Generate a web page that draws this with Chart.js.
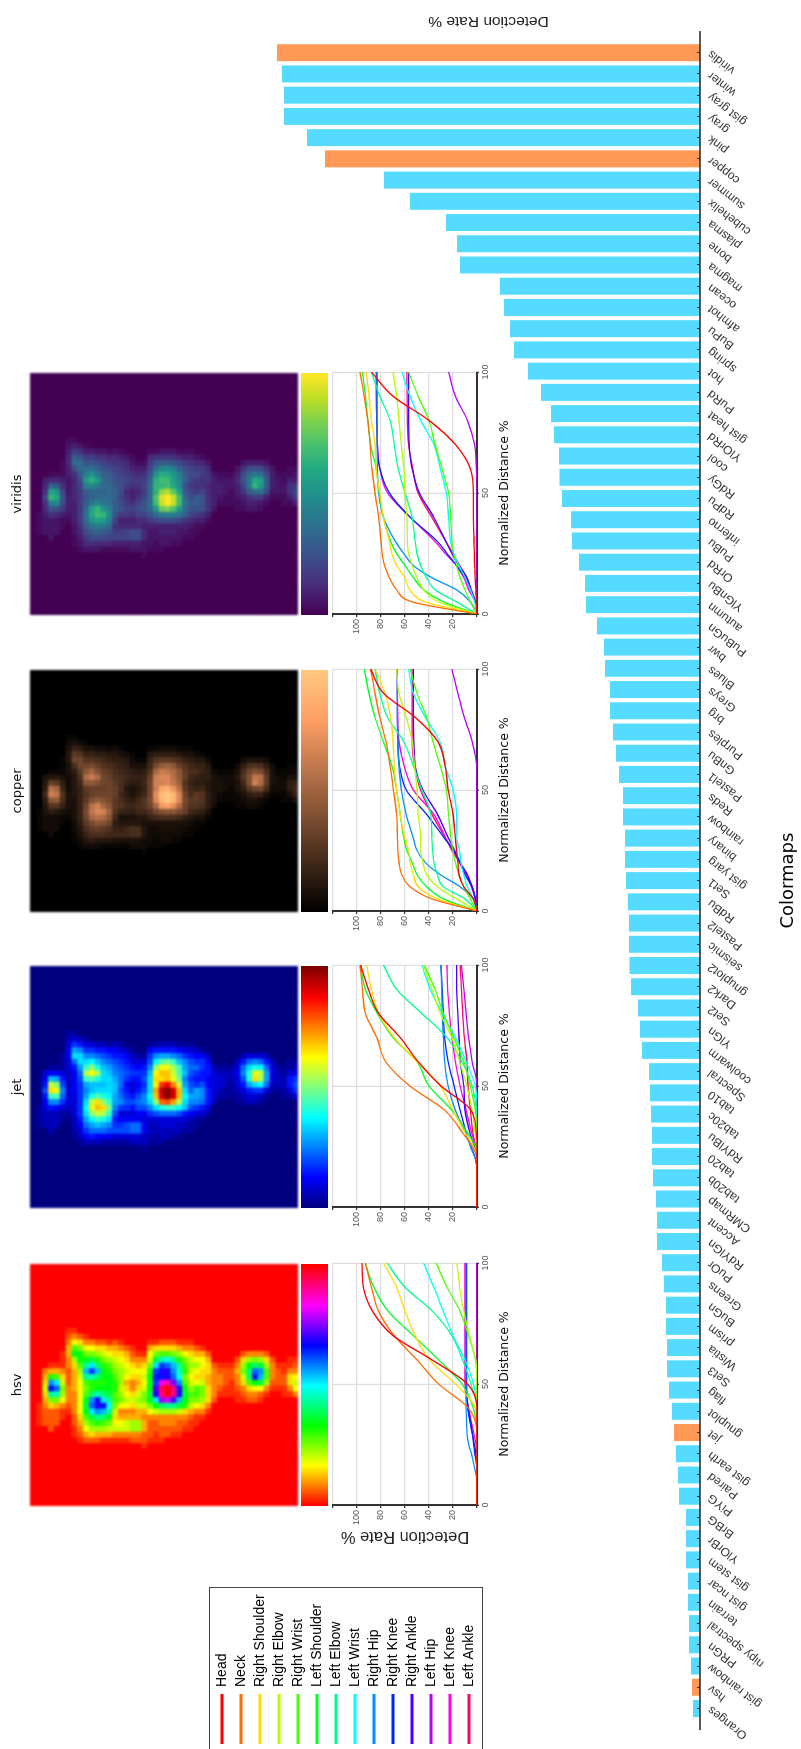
<!DOCTYPE html>
<html>
<head>
<meta charset="utf-8">
<title>Colormaps</title>
<script src="https://cdn.jsdelivr.net/npm/chart.js@4"></script>
<style>
  html, body { margin: 0; padding: 0; background: #fff; overflow: hidden; }
  body { width: 801px; height: 1749px; position: relative; }
  /* the whole figure lies on its side in the reference */
  #figure { position: absolute; left: 0; top: 1749px; width: 1749px; height: 801px;
            transform-origin: 0 0; transform: rotate(-90deg); filter: blur(0.3px); }
  #figure canvas { position: absolute; }
  #figure canvas.heat { filter: blur(0.9px); }
  #legendBox { position: absolute; left: -5px; top: 209px; width: 165px; height: 272px;
               border: 1px solid #444; }
</style>
</head>
<body>
<div id="figure"><div id="legendBox"></div></div>
<script>
// bar chart, viridis end first
const colormapNames = ['viridis','winter','gist gray','gray','pink','copper','summer','cubehelix','plasma','bone',
  'magma','ocean','afmhot','BuPu','spring','hot','PuRd','gist heat','YlOrRd','cool',
  'RdGy','RdPu','inferno','PuBu','OrRd','YlGnBu','autumn','PuBuGn','bwr','Blues',
  'Greys','brg','Purples','GnBu','Pastel1','Reds','rainbow','binary','gist yarg','Set1',
  'RdBu','Pastel2','seismic','gnuplot2','Dark2','Set2','YlGn','coolwarm','Spectral','tab10',
  'tab20c','RdYlBu','tab20','tab20b','CMRmap','Accent','RdYlGn','PuOr','Greens','BuGn',
  'prism','Wistia','Set3','flag','gnuplot','jet','gist earth','Paired','PiYG','BrBG',
  'YlOrBr','gist stem','gist ncar','terrain','nipy spectral','PRGn','gist rainbow','hsv','Oranges'];
const detectionRates = [42.3,41.8,41.6,41.6,39.3,37.5,31.6,29.0,25.4,24.3,
  24.0,20.0,19.6,19.0,18.6,17.2,15.9,14.9,14.6,14.1,
  14.05,13.8,12.9,12.8,12.1,11.5,11.4,10.3,9.6,9.5,
  9.0,9.0,8.7,8.4,8.1,7.7,7.7,7.5,7.5,7.4,
  7.2,7.1,7.1,7.05,6.9,6.2,6.0,5.8,5.1,5.0,
  4.9,4.8,4.8,4.7,4.4,4.3,4.3,3.8,3.6,3.4,
  3.4,3.3,3.3,3.1,2.8,2.6,2.4,2.2,2.1,1.4,
  1.4,1.4,1.2,1.2,1.1,1.1,0.9,0.8,0.7];
const highlighted = ['viridis','copper','jet','hsv'];

// line charts
const jointNames = ['Head','Neck','Right Shoulder','Right Elbow','Right Wrist','Left Shoulder','Left Elbow',
  'Left Wrist','Right Hip','Right Knee','Right Ankle','Left Hip','Left Knee','Left Ankle'];
const jointColors = ['#FF0000','#FF6D00','#FFDB00','#B6FF00','#49FF00','#00FF24','#00FF92',
  '#00FFFF','#0092FF','#0024FF','#4900FF','#B600FF','#FF00DB','#FF006D'];
const distances = [0,5,10,15,20,25,30,40,50,60,70,80,90,100];

const hsvCurves = [
  [0,0,0,0,0,0,0,0,8,37.6,70,87,94.7,96],
  [0,0,0,0,0,0,0,7,32,50,69,82,88,93],
  [0,0,0,0,0,0,0,1.4,18,39.5,51.5,60,67,78],
  [0,0,0,0,0,0,0,0,0,1,6.4,11,14.5,16.7],
  [0,0,0,0,0,0,0,0,0,1.4,7,14,25,34],
  [0,0,0,0,0,0,0,3,12.5,32,53,74,86,93],
  [0,0,0,0,0,0,0,0,5,12,21,37,60,75],
  [0,0,0,0,0,0,0,0,3,10,20,28,36,44.6],
  [0,0,0,2,4,7,8.4,9,9.2,9.2,9.2,9.2,9.2,9.2],
  [0,0,0,0,1.4,2.8,4,7.5,9,9,9,9,9,9],
  [0,0,0,0,0.5,2.2,4,7.5,8.6,8.6,8.6,8.6,8.6,8.6],
  [0,0,0,0,0,0,0,0,0,0,0,0,0,0],
  [0,0,0,0,0,0.8,2.8,7,10,10,10,10,10,10],
  [0,0,0,0,0,0,0,0,0,0,0,0,0,0]];
const jetCurves = [
  [0,0,0,0,0,0,0.5,5,30,49,64,82,90.5,97],
  [0,0,0,0,0,4,11,27,56,76,83.5,93,95.5,97.5],
  [0,0,0,0,0,3,9,20,30.6,50,69,82,88,92],
  [0,0,0,0,0,0,1.4,4,8.4,14.5,21,30.6,37.6,44.6],
  [0,0,0,0,0,0,0,1.4,5.5,11,19.5,28,35,44],
  [0,0,0,0,0,1.4,7,21,40,50,70,83,93,97],
  [0,0,0,0,0,0,0,0.5,4,12.5,25,46,67,78],
  [0,0,0,0,0,0,0,0,1.4,9,18,29,39,46],
  [0,0,0,0,1.4,5.5,9,18,24,27,28,29,29.5,30],
  [0,0,0,0,1.4,5,8.4,14,19,24,27,28,29,30],
  [0,0,0,0,0,2,5.5,10,11,14,15,16,17,17],
  [0,0,0,0,0,0,0,0,0,4,7,9,11,13],
  [0,0,0,0,0,1.4,4,9,14,18,21,23,24.5,25],
  [0,0,0,0,0,1.4,3.3,5.5,7.5,8.4,10.6,12,13,14]];
const copperCurves = [
  [0,3,11,15,16,17,18,20,24,26.5,32.6,51.5,78,88.6],
  [0,37.6,55.7,62.7,65,66,66.3,67,69.6,72.4,75.8,81,85,88.6],
  [0,33,49,53,55.7,57,60,64,67,69,70,72,76.6,85],
  [0,17,33,42,45,47,47,49,50,52,54,59,65,67],
  [0,5.5,11,15,18,20,21.7,23.7,25.6,30.6,36.8,42,50,55.7],
  [0,28,42,50,54,58.5,61,64,67,71,78,85,90,94],
  [0,10,28,33,36,37,37.6,38.4,46,53,61,74.6,81,85],
  [0,3,8,11,13.4,14.5,16.7,17,20,26.5,31,43,53,57],
  [0,3,14,30.6,43,50,53,59,63,65,66,66.3,66.3,66.3],
  [0,1.4,4,10,14,19.5,27,42,59,64.6,66,66.3,66.3,66.3],
  [0,1.4,4,8,14,18.7,23.7,33,45,51.5,52.6,53,53,53],
  [0,0,0,0,0,0,0,0,0,0.3,4,10.6,16,21],
  [0,1.4,4,9,14.5,21,26,36,53,60.7,65,66,66.3,66.3],
  [0,1.4,4.7,9,14.5,20,26,37.6,47,52,54,54,54,54]];
const viridisCurves = [
  [0,0.5,1,1.5,2,2.2,2.5,3,3,5.5,18,40,70,88],
  [0,54,67,73,77,79,80,82,85,87.5,89,91,94,97.5],
  [0,43,56,60,67,71,73,78,81,84,85,88,90,92.5],
  [0,32,44.5,50,54,57,58,58.5,60,61,63,65,67,70],
  [0,5.5,10,14,17,19.5,21,22,23.7,29,35,40,49,57],
  [0,28,44.5,53,60,67,72,78,81.6,84,88.6,91,93,95.5],
  [0,17,35,42,47,50,51.5,54,60,65.5,69,72.4,81,88],
  [0,2,5.5,10,15,19.5,22,23.7,25.6,30.6,36,47,55.7,62.7],
  [0,5.5,17,37.6,53,61,68,78,82,83,83.3,83.3,83.3,83.3],
  [0,1.4,5.5,10,17,25,33,55.7,73,81,83,83.5,83.5,83.5],
  [0,1.4,5,8.4,15,21,26,36,48,54,56.5,57,57,57],
  [0,0,0,0,0,0,0,0,0,0.5,2,8,18,23.7],
  [0,1.4,7,11,17,26.5,35,55.7,74.6,81,83,83.6,84,84],
  [0,1.4,4.7,8.4,14.5,20,26,37.6,49,53.5,57,58,58.2,58.5]];

// heatmap intensity: [first non zero column, base 36 values], one entry per row
const heatCols = 42;
const heatRows = [
  [0,''],[14,'1111'],[14,'2223457543'],[13,'222259fnkb41'],[14,'22249glia41'],[15,'113689753111'],
  [16,'123332223344321'],[12,'11223333444458ca631'],[11,'1234566666678acc952'],[11,'2468acdca9afjfc9631'],
  [11,'258adilkebbgmid963'],[11,'248bfkongcbejeb852'],[11,'148aejniecbccb9752'],[11,'1479cfhfdcccba8641'],
  [11,'1376579aabba987542'],[11,'137643698788876531'],[11,'13774367654676542'],[11,'23884357533565321'],
  [11,'2388447875456431'],[10,'12244347997676531'],[11,'1222369cdcccb97641'],[11,'112237ciopmnmid951'],
  [11,'122338erwxtnomga52'],[12,'22338fszzvoolha52'],[12,'12338fpwwqlkjf952'],[12,'12237djookhgfb841'],
  [13,'1235bcdca9ba9631'],[13,'112479a876787531'],[14,'11369aa6568642'],[15,'1358997556641'],
  [16,'13555445542'],[18,'2333332'],[19,'123321'],[19,'112221'],[19,'111221'],
  [18,'11233432'],[18,'123579852'],[18,'235aeec83'],[18,'236cnle93'],[18,'126djkd83'],
  [19,'138aa852'],[20,'123332'],[20,'12221'],[19,'112211'],[19,'1355311'],[19,'3676321']];

// colormap stops
const hsvStops = [[255,0,0],[255,255,0],[0,255,0],[0,255,255],[0,0,255],[255,0,255],[255,0,0]];
const jetStops = [[0,0,127],[0,0,255],[0,127,255],[0,255,255],[127,255,127],[255,255,0],[255,127,0],[255,0,0],[127,0,0]];
const copperStops = [[0,0,0],[64,40,25],[128,80,51],[191,119,76],[255,159,101],[255,199,127]];
const viridisStops = [[68,1,84],[72,36,117],[65,68,135],[53,95,141],[42,120,142],[33,144,141],[34,168,132],[68,191,112],[122,209,81],[189,223,38],[253,231,37]];

Chart.defaults.animation = false;
Chart.defaults.devicePixelRatio = 1;
Chart.defaults.events = [];
Chart.defaults.plugins.tooltip.enabled = false;

const SANS = '"Liberation Sans"';
const DEJAVU = '"DejaVu Sans"';
const figure = document.getElementById('figure');

function addCanvas(x, y, w, h, cls) {
  const c = document.createElement('canvas');
  c.width = w; c.height = h;
  c.style.left = x + 'px'; c.style.top = y + 'px';
  if (cls) c.className = cls;
  figure.appendChild(c);
  return c;
}

function cmapColor(stops, t) {
  const p = Math.min(Math.max(t, 0), 1) * (stops.length - 1);
  const i = Math.min(Math.floor(p), stops.length - 2);
  const f = p - i;
  const c = [0, 1, 2].map(k => Math.round(stops[i][k] + (stops[i + 1][k] - stops[i][k]) * f));
  return 'rgb(' + c.join(',') + ')';
}

// bar chart -----------------------------------------------------------------
const sideTitle = {
  id: 'sideTitle',
  afterDraw(chart) {
    const a = chart.chartArea, ctx = chart.ctx;
    ctx.save();
    ctx.translate(1728, (a.top + a.bottom) / 2);
    ctx.rotate(-Math.PI / 2);
    ctx.font = '15.5px ' + SANS;
    ctx.fillStyle = '#222';
    ctx.textAlign = 'center';
    ctx.textBaseline = 'middle';
    ctx.fillText('Detection Rate %', 0, 0);
    ctx.restore();
  }
};
const baseLine = {
  id: 'baseLine',
  afterDraw(chart) {
    const a = chart.chartArea, ctx = chart.ctx;
    ctx.save();
    ctx.strokeStyle = '#222';
    ctx.lineWidth = 1.5;
    ctx.beginPath();
    ctx.moveTo(a.left - 11, a.bottom);
    ctx.lineTo(a.right + 11, a.bottom);
    ctx.stroke();
    ctx.restore();
  }
};
new Chart(addCanvas(0, 250, 1749, 551), {
  type: 'bar',
  data: {
    labels: colormapNames,
    datasets: [{
      data: detectionRates,
      backgroundColor: colormapNames.map(n => highlighted.includes(n) ? '#FF9955' : '#54DBFF'),
      barPercentage: 0.8,
      categoryPercentage: 1
    }]
  },
  options: {
    responsive: false,
    layout: { padding: { left: 29.9, right: 42.1, top: 27 } },
    plugins: { legend: { display: false } },
    scales: {
      x: {
        reverse: true,
        afterFit: s => { s.height = 101; },
        border: { display: false },
        grid: { drawOnChartArea: false, offset: false, tickLength: -3, color: '#333', z: 1 },
        ticks: { autoSkip: false, minRotation: 52, maxRotation: 52, padding: 8, color: '#333',
                 font: { family: SANS, size: 12 } },
        title: { display: true, text: 'Colormaps', color: '#000', padding: { top: 0, bottom: 2 },
                 font: { family: DEJAVU, size: 18 } }
      },
      y: { display: false, min: 0, max: 42.3 }
    }
  },
  plugins: [sideTitle, baseLine]
});

// heatmaps, colour strips and rate curves -------------------------------------
const heatGrid = heatRows.map(([start, vals]) => {
  const row = new Array(heatCols).fill(0);
  vals.split('').forEach((ch, i) => { row[start + i] = parseInt(ch, 36) / 35; });
  return row;
});

function panelTitle(left, name) {
  new Chart(addCanvas(left, 0, 242, 30), {
    type: 'bar',
    data: { labels: [], datasets: [] },
    options: {
      responsive: false,
      plugins: {
        legend: { display: false },
        title: { display: true, text: name, color: '#111', font: { family: DEJAVU, size: 13, weight: 'normal' },
                 padding: { top: 10, bottom: 4.4 } }
      },
      scales: { x: { display: false }, y: { display: false } }
    }
  });
}

function heatmap(left, stops) {
  const cols = heatGrid[0].map((_, i) => i);
  new Chart(addCanvas(left, 30, 242, 268, 'heat'), {
    type: 'bar',
    data: {
      labels: cols,
      datasets: heatGrid.map((row, r) => ({
        data: row.map(() => [r, r + 1]),
        backgroundColor: row.map(v => cmapColor(stops, v)),
        borderWidth: 0,
        inflateAmount: 0.6,
        barPercentage: 1,
        categoryPercentage: 1,
        grouped: false
      }))
    },
    options: {
      responsive: false,
      plugins: { legend: { display: false } },
      scales: {
        x: { display: false },
        y: { display: false, reverse: true, min: 0, max: heatRows.length }
      }
    }
  });
}

function colourStrip(left, stops) {
  const steps = [];
  for (let i = 0; i < 121; i++) steps.push(i);
  new Chart(addCanvas(left, 301, 242, 27), {
    type: 'bar',
    data: {
      labels: steps,
      datasets: [{
        data: steps.map(() => [0, 1]),
        backgroundColor: steps.map(i => cmapColor(stops, i / 120)),
        borderWidth: 0,
        inflateAmount: 0.6,
        barPercentage: 1,
        categoryPercentage: 1
      }]
    },
    options: {
      responsive: false,
      plugins: { legend: { display: false } },
      scales: { x: { display: false }, y: { display: false, min: 0, max: 1 } }
    }
  });
}

function rateChart(left, curves, withYTitle) {
  const grid = { color: '#ddd', lineWidth: 1.2, tickLength: 3, tickColor: '#333' };
  new Chart(addCanvas(left - 44, 325, 300, 195), {
    type: 'line',
    data: {
      datasets: curves.map((vals, j) => ({
        label: jointNames[j],
        data: vals.map((v, i) => ({ x: distances[i], y: v })),
        borderColor: jointColors[j],
        backgroundColor: jointColors[j],
        borderWidth: 1.3,
        pointRadius: 0,
        cubicInterpolationMode: 'monotone'
      }))
    },
    options: {
      responsive: false,
      layout: { padding: { top: 8, right: 14 } },
      plugins: { legend: { display: false } },
      scales: {
        x: {
          type: 'linear', min: 0, max: 100,
          afterFit: s => { s.height = 43; },
          border: { color: '#333', width: 2 },
          grid: { color: '#ddd', lineWidth: 1.2, tickLength: 2, tickColor: '#333' },
          ticks: { stepSize: 50, padding: 1, color: '#555', maxRotation: 0, font: { family: SANS, size: 9 } },
          title: { display: true, text: 'Normalized Distance %', color: '#111', padding: { top: 0, bottom: 8 },
                   font: { family: DEJAVU, size: 12.5 } }
        },
        y: {
          min: 0, max: 120,
          afterFit: s => { s.width = 44; },
          border: { color: '#333', width: 2 },
          grid: grid,
          ticks: { stepSize: 20, padding: 2, color: '#555', font: { family: SANS, size: 9 },
                   callback: v => (v === 0 || v === 120) ? '' : v },
          title: { display: withYTitle, text: 'Detection Rate %', color: '#222', padding: { top: 3, bottom: 0 },
                   font: { family: SANS, size: 16.5 } }
        }
      }
    }
  });
}

const panels = [
  ['hsv', 243, hsvStops, hsvCurves],
  ['jet', 541, jetStops, jetCurves],
  ['copper', 837, copperStops, copperCurves],
  ['viridis', 1134, viridisStops, viridisCurves]
];
panels.forEach(([name, left, stops, curves], i) => {
  panelTitle(left, name);
  heatmap(left, stops);
  colourStrip(left, stops);
  rateChart(left + 1, curves, i === 0);
});

// legend ------------------------------------------------------------------------
new Chart(addCanvas(0, 210, 159, 271), {
  type: 'line',
  data: {
    datasets: jointNames.map((n, j) => ({ label: n, data: [], backgroundColor: jointColors[j], borderColor: jointColors[j], borderWidth: 0 }))
  },
  options: {
    responsive: false,
    plugins: {
      legend: { display: true, position: 'left', align: 'center', maxWidth: 159,
                labels: { boxWidth: 50, boxHeight: 3, padding: 5, color: '#000', font: { family: SANS, size: 14 } } }
    },
    scales: { x: { display: false }, y: { display: false } }
  }
});
</script>
</body>
</html>
